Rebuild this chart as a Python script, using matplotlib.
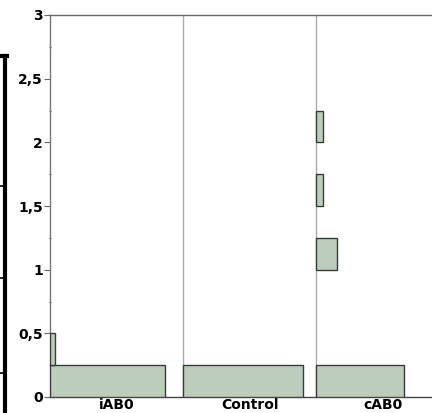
import matplotlib
matplotlib.use("Agg")
import matplotlib.pyplot as plt
from matplotlib.lines import Line2D
from matplotlib.ticker import MultipleLocator, FixedLocator

# Data: horizontal histogram per group (bin start, relative width in group units)
groups = ["iAB0", "Control", "cAB0"]
bin_width = 0.25
iab0_bins = [0.0, 0.25]
iab0_widths = [0.865, 0.041]
control_bins = [0.0]
control_widths = [0.90]
cab0_bins = [0.0, 1.0, 1.5, 2.0]
cab0_widths = [0.66, 0.155, 0.056, 0.056]
ytick_vals = [0, 0.5, 1, 1.5, 2, 2.5, 3]
ytick_labels = ["0", "0,5", "1", "1,5", "2", "2,5", "3"]

series = [(iab0_bins, iab0_widths), (control_bins, control_widths), (cab0_bins, cab0_widths)]

fig = plt.figure(figsize=(4.32, 4.13), dpi=100)
W, H = 432, 413
ax = fig.add_axes([50 / W, (H - 397) / H, (449 - 50) / W, (397 - 15) / H])

fill = "#bccdbc"
edge = "#3a3a3a"
for i, (bins, widths) in enumerate(series):
    ax.barh(bins, widths, height=bin_width, left=i, align="edge",
            color=fill, edgecolor=edge, linewidth=1.0, zorder=3)

for i in range(1, len(groups)):
    ax.axvline(i, color="#aaaaaa", linewidth=1.0, zorder=2)

ax.set_xlim(0, 3)
ax.set_ylim(0, 3)

font = ["DejaVu Sans"]
ax.set_xticks([0.5, 1.5, 2.5])
ax.set_xticklabels(groups, fontsize=10, fontweight="bold", family=font)
ax.tick_params(axis="x", length=0, pad=1)

ax.yaxis.set_major_locator(FixedLocator(ytick_vals))
ax.set_yticklabels(ytick_labels, fontsize=10, fontweight="bold", family=font)
ax.yaxis.set_minor_locator(MultipleLocator(0.25))
ax.tick_params(axis="y", which="major", length=4, width=0.8, color="#666666", pad=1)
ax.tick_params(axis="y", which="minor", length=2, width=0.8, color="#666666", direction="inout")

ax.spines["right"].set_visible(False)
ax.spines["left"].set_color("#777777")
ax.spines["top"].set_color("#666666")
ax.spines["bottom"].set_color("#444444")
for s in ax.spines.values():
    s.set_linewidth(1.0)

# Fragment of neighbouring panel frame at the left edge
def fx(px):
    return px / W
def fy(py):
    return (H - py) / H
lw = 3.0
fig.add_artist(Line2D([fx(5), fx(5)], [fy(56), fy(413)], color="black", linewidth=lw))
fig.add_artist(Line2D([fx(0), fx(6.5)], [fy(56), fy(56)], color="black", linewidth=lw))
for ty in [186, 278, 373]:
    fig.add_artist(Line2D([fx(0), fx(5)], [fy(ty), fy(ty)], color="black", linewidth=1.2))

fig.savefig("out.png", dpi=100)
